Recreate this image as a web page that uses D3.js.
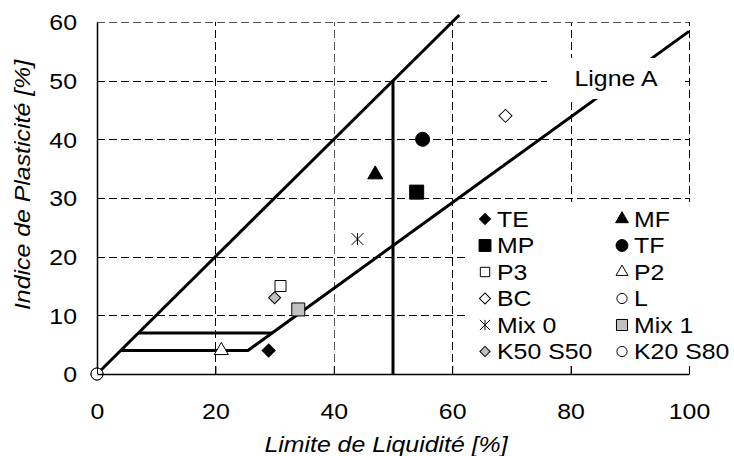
<!DOCTYPE html>
<html>
<head>
<meta charset="utf-8">
<script src="https://cdn.jsdelivr.net/npm/d3@7"></script>
<style>
	body { margin: 0; background: #fff; }
	svg text { font-family: "Liberation Sans", Arial, sans-serif; fill: #000; }
</style>
</head>
<body>
<div id="chart"></div>
<script>
// Data
var names = ["TE", "MF", "MP", "TF", "P3", "P2", "BC", "L", "Mix 0", "Mix 1", "K50 S50", "K20 S80"];
var liquidity = [29, 47, 54, 55, 31, 21, 69, 0, 44, 34, 30, 0];
var plasticity = [4, 34, 31, 40, 15, 4, 44, 0, 23, 11, 13, 0];
var xTicks = [0, 20, 40, 60, 80, 100];
var yTicks = [0, 10, 20, 30, 40, 50, 60];

// Classification lines (Casagrande)
var upperLineX = [0, 61.2];
var upperLineY = [0, 61.2];
var aLineX = [4, 25.5, 100];
var aLineY = [4, 4, 58.4];
var step7X = [7, 29.6];
var step7Y = [7, 7];
var llLimitX = [50, 50];
var llLimitY = [0, 50];

// marker style per series
var shapes = ["diamond", "triangle", "square", "circle", "square", "triangle", "diamond", "circle", "star", "square", "diamond", "circle"];
var fills = ["#000", "#000", "#000", "#000", "#fff", "#fff", "#fff", "#fff", "none", "#c0c0c0", "#c0c0c0", "#fff"];
var sizes = [13, 15, 14, 14, 11, 14, 13, 12, 12, 13, 12, 12];

var width = 734, height = 456;
var fontSize = 22;
var stretch = 1.13; // text in the picture is a bit wider than Arial

var svg = d3.select("#chart").append("svg")
	.attr("width", width)
	.attr("height", height);

var x = d3.scaleLinear().domain([0, 100]).range([97, 689]);
var y = d3.scaleLinear().domain([0, 60]).range([374, 22]);

// grid
var grid = svg.append("g").attr("stroke", "#000").attr("stroke-width", 1)
	.attr("stroke-dasharray", "8,4").attr("shape-rendering", "crispEdges");
grid.selectAll(".gx").data(xTicks.slice(1)).enter().append("line")
	.attr("x1", function(d) { return Math.round(x(d)) + 0.5; })
	.attr("x2", function(d) { return Math.round(x(d)) + 0.5; })
	.attr("y1", y(0)).attr("y2", y(60))
	.attr("stroke", function(d) { return d == 40 ? "#555" : "#000"; });
grid.selectAll(".gy").data(yTicks.slice(1)).enter().append("line")
	.attr("y1", function(d) { return Math.round(y(d)) + 0.5; })
	.attr("y2", function(d) { return Math.round(y(d)) + 0.5; })
	.attr("x1", x(0)).attr("x2", x(100))
	.attr("stroke", function(d) { return d == 60 ? "#555" : "#000"; });

// axes
var xAxis = d3.axisBottom(x).tickValues(xTicks).tickSizeInner(-8).tickSizeOuter(0).tickPadding(29.5);
var yAxis = d3.axisLeft(y).tickValues(yTicks).tickSizeInner(0).tickSizeOuter(0).tickPadding(20);
var gx = svg.append("g").attr("transform", "translate(0," + y(0) + ")").call(xAxis);
var gy = svg.append("g").attr("transform", "translate(" + x(0) + ",0)").call(yAxis);
gx.select(".domain").attr("stroke-width", 1.5);
gy.select(".domain").attr("stroke-width", 1.5);
gx.selectAll(".tick text").attr("font-size", fontSize).attr("font-family", "Liberation Sans, Arial, sans-serif");
gy.selectAll(".tick text").attr("font-size", fontSize).attr("font-family", "Liberation Sans, Arial, sans-serif").attr("dy", "0.36em");

// Ligne A label box
svg.append("rect").attr("x", 547).attr("y", 58).attr("width", 138).attr("height", 41).attr("fill", "#fff");

var line = d3.line().x(function(d) { return x(d[0]); }).y(function(d) { return y(d[1]); });
function drawLine(xs, ys) {
	var pts = xs.map(function(v, i) { return [v, ys[i]]; });
	return svg.append("path").datum(pts).attr("d", line)
		.attr("fill", "none").attr("stroke", "#000").attr("stroke-width", 3)
		.attr("stroke-linejoin", "miter");
}
drawLine(upperLineX, upperLineY);
drawLine(step7X, step7Y);
drawLine(llLimitX, llLimitY);
svg.append("clipPath").attr("id", "cutA").append("path")
	.attr("d", "M0,0H734V456H0Z M547,58V99H685V58Z").attr("clip-rule", "evenodd");
drawLine(aLineX, aLineY).attr("clip-path", "url(#cutA)");

svg.append("text").attr("x", 616).attr("y", 86).attr("text-anchor", "middle")
	.attr("font-size", fontSize).text("Ligne A");

// custom asterisk
var star = {
	draw: function(ctx, size) {
		var r = Math.sqrt(size) / 2;
		ctx.moveTo(0, -r); ctx.lineTo(0, r);
		ctx.moveTo(-r, -r); ctx.lineTo(r, r);
		ctx.moveTo(-r, r); ctx.lineTo(r, -r);
	}
};
function symbolPath(shape, w) {
	if (shape == "diamond") return d3.symbol(d3.symbolSquare, (w / Math.SQRT2) * (w / Math.SQRT2))();
	if (shape == "square") return d3.symbol(d3.symbolSquare, w * w)();
	if (shape == "circle") return d3.symbol(d3.symbolCircle, Math.PI * w * w / 4)();
	if (shape == "triangle") return d3.symbol(d3.symbolTriangle, w * w * Math.sqrt(3) / 4)();
	return d3.symbol(star, w * w)();
}
function drawMarker(g, i, cx, cy, w) {
	g.append("path")
		.attr("d", symbolPath(shapes[i], w))
		.attr("transform", "translate(" + cx + "," + cy + ")" + (shapes[i] == "diamond" ? " rotate(45)" : ""))
		.attr("fill", fills[i])
		.attr("stroke", "#000")
		.attr("stroke-width", 1);
}

// points
var pts = svg.append("g");
var order = [7, 11, 0, 1, 2, 3, 5, 6, 8, 9, 4, 10];
order.forEach(function(i) {
	drawMarker(pts, i, x(liquidity[i]), y(plasticity[i]), sizes[i]);
});

// legend
var leg = svg.append("g");
leg.append("rect").attr("x", 467).attr("y", 202).attr("width", 267).attr("height", 163).attr("fill", "#fff");
names.forEach(function(n, i) {
	var col = i % 2, row = Math.floor(i / 2);
	var mx = col == 0 ? 485 : 622;
	var my = 219 + row * 26.5;
	drawMarker(leg, i, mx, my, sizes[i] * 0.85);
	leg.append("text").attr("x", mx + 12).attr("y", my).attr("dy", "0.36em")
		.attr("font-size", fontSize).text(n);
});
// ticks over legend
gx.raise();

// axis titles
svg.append("text").attr("x", 386).attr("y", 452).attr("text-anchor", "middle")
	.attr("font-size", fontSize).attr("font-style", "italic").text("Limite de Liquidité [%]");
svg.append("text").attr("transform", "translate(30,185) rotate(-90)").attr("text-anchor", "middle")
	.attr("font-size", fontSize).attr("font-style", "italic").text("Indice de Plasticité [%]");

// widen all texts
svg.selectAll("text").each(function() {
	var len = this.getComputedTextLength();
	d3.select(this).attr("textLength", len * stretch).attr("lengthAdjust", "spacingAndGlyphs");
});
</script>
</body>
</html>
